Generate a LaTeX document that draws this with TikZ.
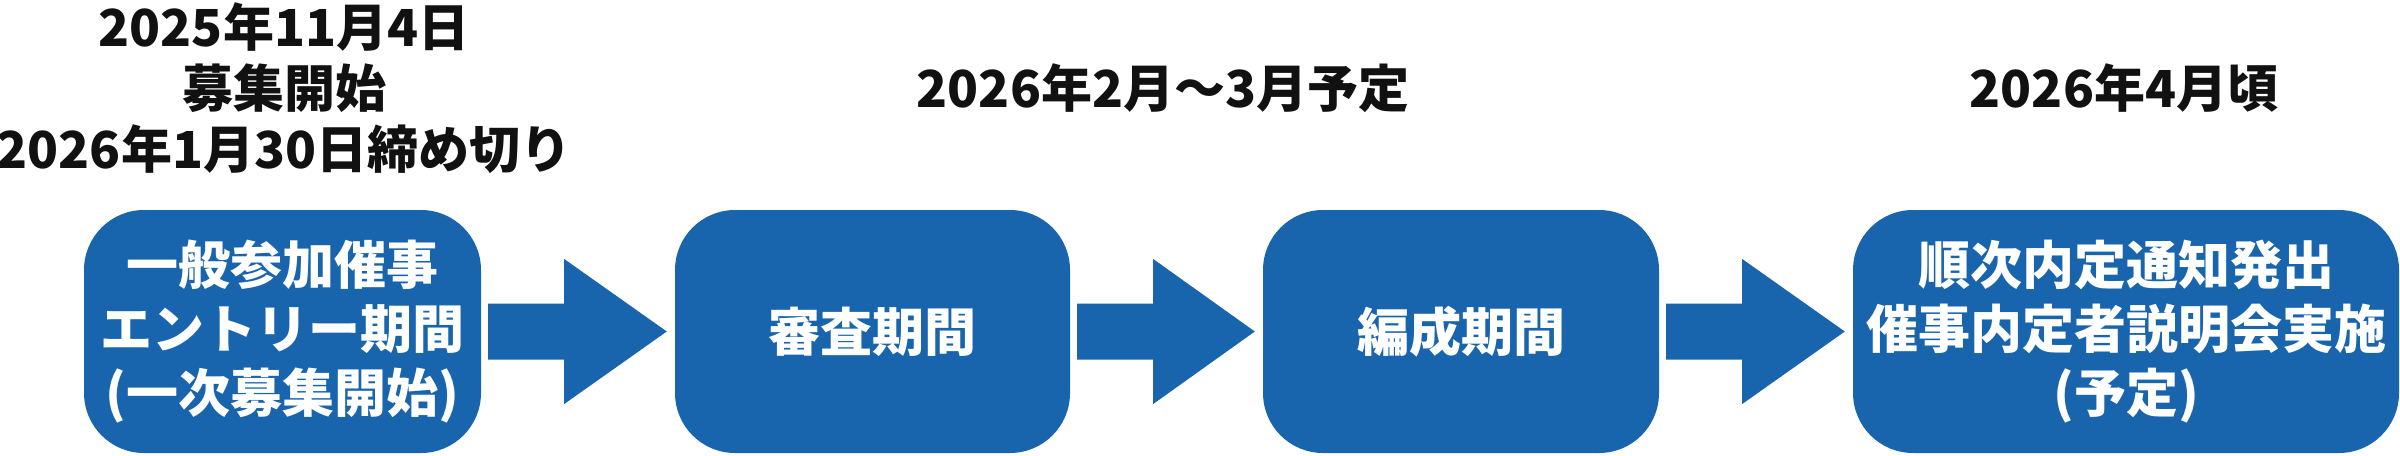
\documentclass[tikz,border=0pt]{standalone}
\usepackage{fontspec}
\setmainfont{Noto Sans CJK JP}[BoldFont={Noto Sans CJK JP Black}]
\usetikzlibrary{calc}
\definecolor{mainblue}{RGB}{24,101,174}
\definecolor{labelblack}{RGB}{17,17,17}
\tikzset{
  stagebox/.style={fill=mainblue, rounded corners=60pt, minimum height=243pt,
    text=white, align=center, inner sep=0pt,
    font=\fontsize{52pt}{64pt}\selectfont\bfseries},
  toplabel/.style={text=labelblack, align=center, inner sep=0pt,
    font=\fontsize{51pt}{61pt}\selectfont\bfseries},
  blockarrow/.style={fill=mainblue}
}
\begin{document}
\begin{tikzpicture}[x=1pt,y=-1pt]
\useasboundingbox (0,0) rectangle (2400,455);
\node[stagebox, minimum width=397pt] (b1) at (282.5,331.5) {一般参加催事\\エントリー期間\\(一次募集開始)};
\node[stagebox, minimum width=395pt] (b2) at (872.5,331.5) {審査期間};
\node[stagebox, minimum width=396pt] (b3) at (1461,331.5) {編成期間};
\node[stagebox, minimum width=546pt] (b4) at (2126,331.5) {順次内定通知発出\\催事内定者説明会実施\\(予定)};
\node[toplabel] (t1) at (284,88) {2025年11月4日\\募集開始\\2026年1月30日締め切り};
\node[toplabel] (t2) at (1163,88) {2026年2月～3月予定};
\node[toplabel] (t3) at (2124,88) {2026年4月頃};
\foreach \a/\b in {b1/b2,b2/b3,b3/b4}{
  \fill[blockarrow] ($(\a.east)+(7,-28)$) -- ($(\a.east)+(83,-28)$)
    -- ($(\a.east)+(83,-72.5)$) -- ($(\b.west)+(-8,0)$)
    -- ($(\a.east)+(83,72.5)$) -- ($(\a.east)+(83,28)$)
    -- ($(\a.east)+(7,28)$) -- cycle;
}
\end{tikzpicture}
\end{document}
